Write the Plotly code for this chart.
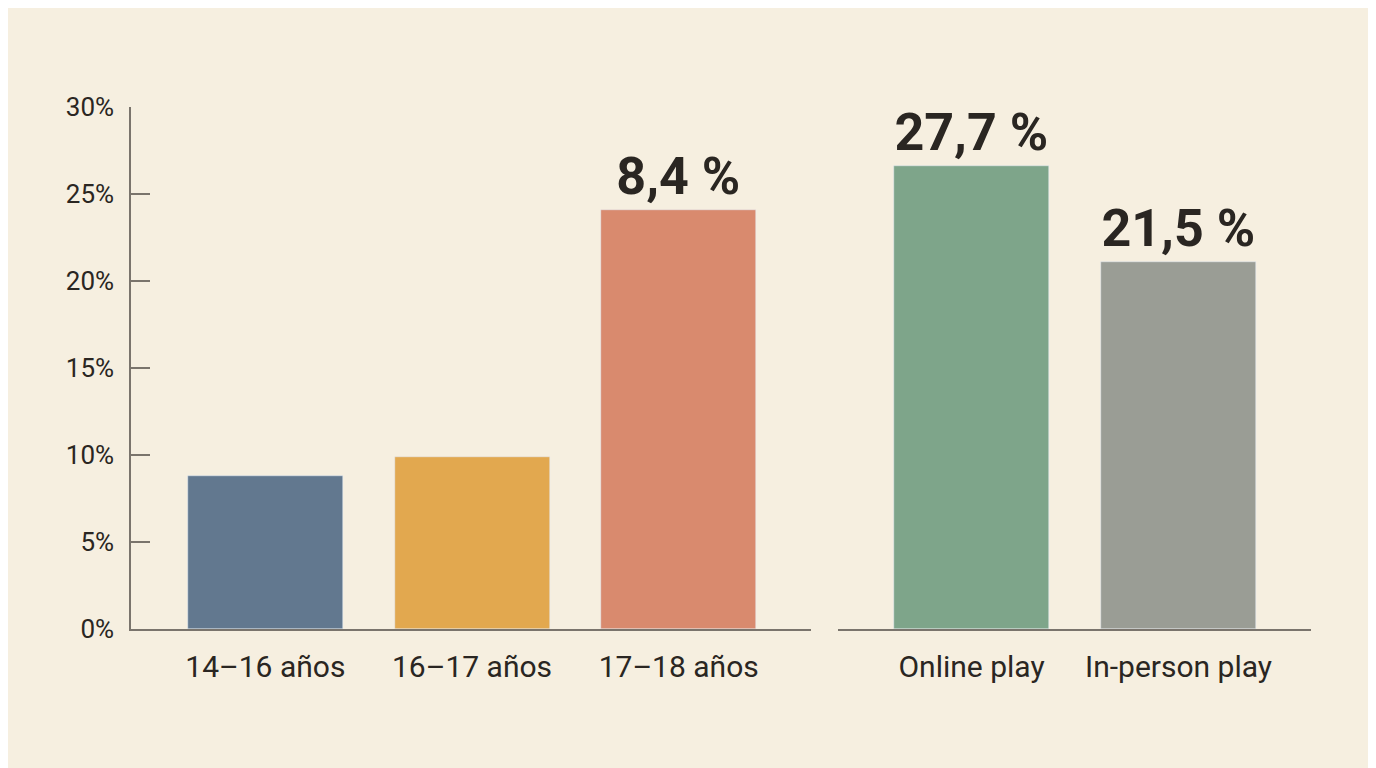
import plotly.graph_objects as go

# Data
age_groups = ["14–16 años", "16–17 años", "17–18 años"]
age_values = [8.8, 9.9, 24.1]
age_labels = ["", "", "8,4 %"]
age_colors = ["#62788f", "#e2a84f", "#d98a6e"]

play_types = ["Online play", "In-person play"]
play_values = [26.6, 21.1]
play_labels = ["27,7 %", "21,5 %"]
play_colors = ["#7ea58a", "#9a9d95"]

y_ticks = [0, 5, 10, 15, 20, 25, 30]
y_ticktext = ["0%", "5%", "10%", "15%", "20%", "25%", "30%"]

W, H = 1376, 768
OFF = 8  # page body margin offset
BG = "#f6efe0"
TXT = "#2a2622"
AX = "#7a746c"
FONT = "Roboto, 'Noto Sans', sans-serif"

fig = go.Figure()
fig.add_trace(go.Bar(
    x=age_groups, y=age_values, marker_color=age_colors, width=0.75,
    text=age_labels, textposition="outside", cliponaxis=False,
    textfont=dict(size=52, color=TXT, family=FONT, weight="bold"),
    xaxis="x", yaxis="y", showlegend=False, hoverinfo="skip",
))
fig.add_trace(go.Bar(
    x=play_types, y=play_values, marker_color=play_colors, width=0.75,
    text=play_labels, textposition="outside", cliponaxis=False,
    textfont=dict(size=52, color=TXT, family=FONT, weight="bold"),
    xaxis="x2", yaxis="y2", showlegend=False, hoverinfo="skip",
))

ydom = [(H - 629 + OFF) / H, (H - 107 + OFF) / H]
fig.update_layout(
    width=W, height=H,
    paper_bgcolor=BG, plot_bgcolor=BG,
    margin=dict(l=0, r=0, t=0, b=0, autoexpand=False),
    font=dict(family=FONT, color=TXT),
    bargap=0,
    xaxis=dict(domain=[(131 - OFF) / W, (811 - OFF) / W], range=[-0.65, 2.64], showline=True,
               linecolor=AX, linewidth=1.5, ticks="", showgrid=False, automargin=False,
               tickangle=0,
               tickfont=dict(size=30, color=TXT), ticklabelstandoff=10, anchor="y"),
    xaxis2=dict(domain=[(838 - OFF) / W, (1311 - OFF) / W], range=[-0.645, 1.64], showline=True,
                linecolor=AX, linewidth=1.5, ticks="", showgrid=False, automargin=False,
                tickangle=0,
                tickfont=dict(size=30, color=TXT), ticklabelstandoff=10, anchor="y2"),
    yaxis=dict(domain=ydom, range=[0, 30], tickvals=y_ticks, ticktext=y_ticktext,
               showline=True, linecolor=AX, linewidth=1.5, ticks="inside", automargin=False,
               ticklen=19, tickcolor=AX, tickwidth=1.5, showgrid=False, zeroline=False,
               tickfont=dict(size=26, color=TXT), ticklabelstandoff=10, anchor="x"),
    yaxis2=dict(domain=ydom, range=[0, 30], visible=False, anchor="x2"),
)

fig.write_html("out.html")
